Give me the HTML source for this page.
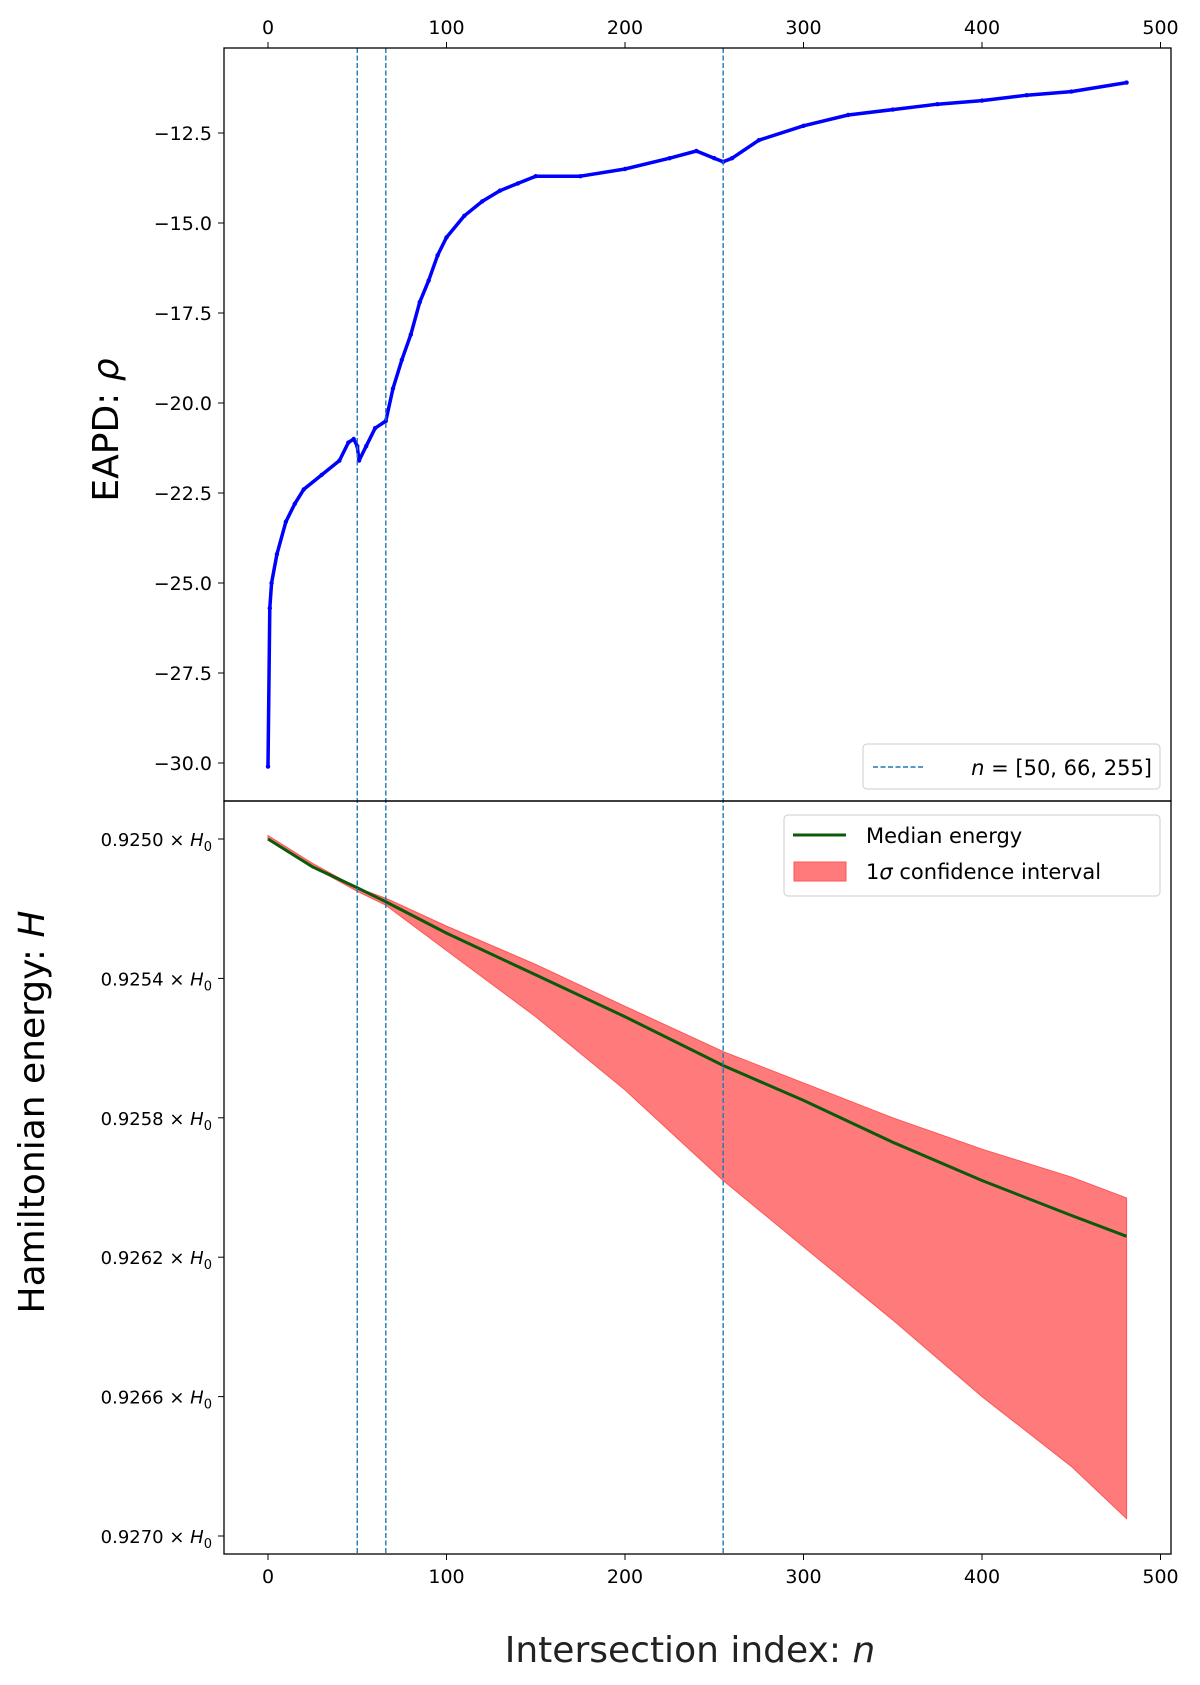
<!DOCTYPE html>
<html><head><meta charset="utf-8"><style>
body{margin:0;background:#fff}
svg{display:block;font-family:"DejaVu Sans","Liberation Sans",sans-serif}
</style></head><body>
<svg width="1200" height="1685" viewBox="0 0 1200 1685">
<g id="g"></g>
<text x="118" y="430" font-size="36" text-anchor="middle" transform="rotate(-90 118 430)">EAPD: <tspan font-style="italic">ρ</tspan></text>
<text x="44" y="1112" font-size="36" text-anchor="middle" transform="rotate(-90 44 1112)">Hamiltonian energy: <tspan font-style="italic">H</tspan></text>
<text x="690" y="1662" font-size="36" text-anchor="middle" fill="#222">Intersection index: <tspan font-style="italic">n</tspan></text>
<g>
<rect x="863" y="744" width="297" height="45" rx="4" fill="#fff" stroke="#ccc"/>
<line x1="873" x2="923" y1="767" y2="767" stroke="#1f77b4" stroke-width="1.4" stroke-dasharray="5,2.5"/>
<text x="1152" y="775" font-size="21" text-anchor="end"><tspan font-style="italic">n</tspan> = [50, 66, 255]</text>
</g>
<g>
<rect x="784" y="815" width="376" height="81" rx="4" fill="#fff" stroke="#ccc"/>
<line x1="793" x2="846" y1="835" y2="835" stroke="#0b5a0b" stroke-width="3"/>
<text x="866" y="843" font-size="21">Median energy</text>
<rect x="794" y="862" width="52" height="19" fill="#ff7b7b" stroke="#ff5555"/>
<text x="866" y="879" font-size="21">1<tspan font-style="italic">σ</tspan> confidence interval</text>
</g>
</svg>
<script>
const eapdN=[0,1,2,5,10,15,20,30,40,45,48,50,51,55,60,66,70,75,80,85,90,95,100,110,120,130,140,150,175,200,225,240,250,255,260,275,300,325,350,375,400,425,450,481];
const eapdV=[-30.1,-25.7,-25.0,-24.2,-23.3,-22.8,-22.4,-22.0,-21.6,-21.1,-21.0,-21.2,-21.6,-21.2,-20.7,-20.5,-19.6,-18.8,-18.1,-17.2,-16.6,-15.9,-15.4,-14.8,-14.4,-14.1,-13.9,-13.7,-13.7,-13.5,-13.2,-13.0,-13.2,-13.3,-13.2,-12.7,-12.3,-12.0,-11.85,-11.7,-11.6,-11.45,-11.35,-11.1];
const hN=[0,25,50,66,100,150,200,255,300,350,400,450,481];
const hMed=[0.92500,0.92508,0.92514,0.92518,0.92527,0.92539,0.92551,0.92565,0.92575,0.92587,0.92598,0.92608,0.92614];
const hUp=[0.92499,0.92507,0.92514,0.92517,0.92525,0.92536,0.92548,0.92561,0.92570,0.92580,0.92589,0.92597,0.92603];
const hLo=[0.92500,0.92508,0.92515,0.92519,0.92532,0.92551,0.92572,0.92598,0.92617,0.92638,0.92660,0.92680,0.92695];
const vlines=[50,66,255];
const xTicks=[0,100,200,300,400,500];
const yTopTicks=[-12.5,-15.0,-17.5,-20.0,-22.5,-25.0,-27.5,-30.0];
const yBotTicks=[0.9250,0.9254,0.9258,0.9262,0.9266,0.9270];

const L=224,R=1171,T=48,M=801,B=1554;
const X=n=>268+n*1.785;
const Y1=v=>133+(-12.5-v)/2.5*90;
const Y2=v=>839+(v-0.925)/0.0004*139.4;
const g=document.getElementById('g');
const NS='http://www.w3.org/2000/svg';
function mk(tag,attrs,parent){const e=document.createElementNS(NS,tag);for(const k in attrs)e.setAttribute(k,attrs[k]);(parent||g).appendChild(e);return e;}
function txt(s,x,y,size,anchor){const t=mk('text',{x:x,y:y,'font-size':size,'text-anchor':anchor||'middle',fill:'#000'});t.innerHTML=s;return t;}

let pts=hN.map((n,i)=>X(n)+','+Y2(hUp[i]));
for(let i=hN.length-1;i>=0;i--)pts.push(X(hN[i])+','+Y2(hLo[i]));
const band=mk('polygon',{points:pts.join(' '),fill:'#ff7b7b',stroke:'#ff5555','stroke-width':1});


const med=mk('polyline',{points:hN.map((n,i)=>X(n)+','+Y2(hMed[i])).join(' '),fill:'none',stroke:'#0b5a0b','stroke-width':3});


const ea=mk('polyline',{points:eapdN.map((n,i)=>X(n)+','+Y1(eapdV[i])).join(' '),fill:'none',stroke:'#0000ff','stroke-width':3.5,'stroke-linejoin':'round'});


eapdN.forEach((n,i)=>{const c=mk('circle',{cx:X(n),cy:Y1(eapdV[i]),r:2.2,fill:'#0000ff'});

});
vlines.forEach(n=>{const l=mk('line',{x1:X(n),x2:X(n),y1:T,y2:B,stroke:'#1f77b4','stroke-width':1.4,'stroke-dasharray':'5,2.5'});

});

mk('rect',{x:L,y:T,width:R-L,height:M-T,fill:'none',stroke:'#000','stroke-width':1.3});
mk('rect',{x:L,y:M,width:R-L,height:B-M,fill:'none',stroke:'#000','stroke-width':1.3});

xTicks.forEach(v=>{
 mk('line',{x1:X(v),x2:X(v),y1:T,y2:T-6,stroke:'#000'});
 const a=txt(v,X(v),T-14,19);
 
 
 mk('line',{x1:X(v),x2:X(v),y1:B,y2:B+6,stroke:'#000'});
 const b=txt(v,X(v),B+29,19);
 
 
});
yTopTicks.forEach(v=>{
 mk('line',{x1:L,x2:L-6,y1:Y1(v),y2:Y1(v),stroke:'#000'});
 const t=txt('\u2212'+Math.abs(v).toFixed(1),L-12,Y1(v)+7,19,'end');
 
 
});
yBotTicks.forEach(v=>{
 mk('line',{x1:L,x2:L-6,y1:Y2(v),y2:Y2(v),stroke:'#000'});
 const t=txt(v.toFixed(4)+' × <tspan font-style="italic">H</tspan><tspan font-size="13" dy="5">0</tspan>',L-12,Y2(v)+7,18,'end');
 
 
});
</script>
</body></html>
